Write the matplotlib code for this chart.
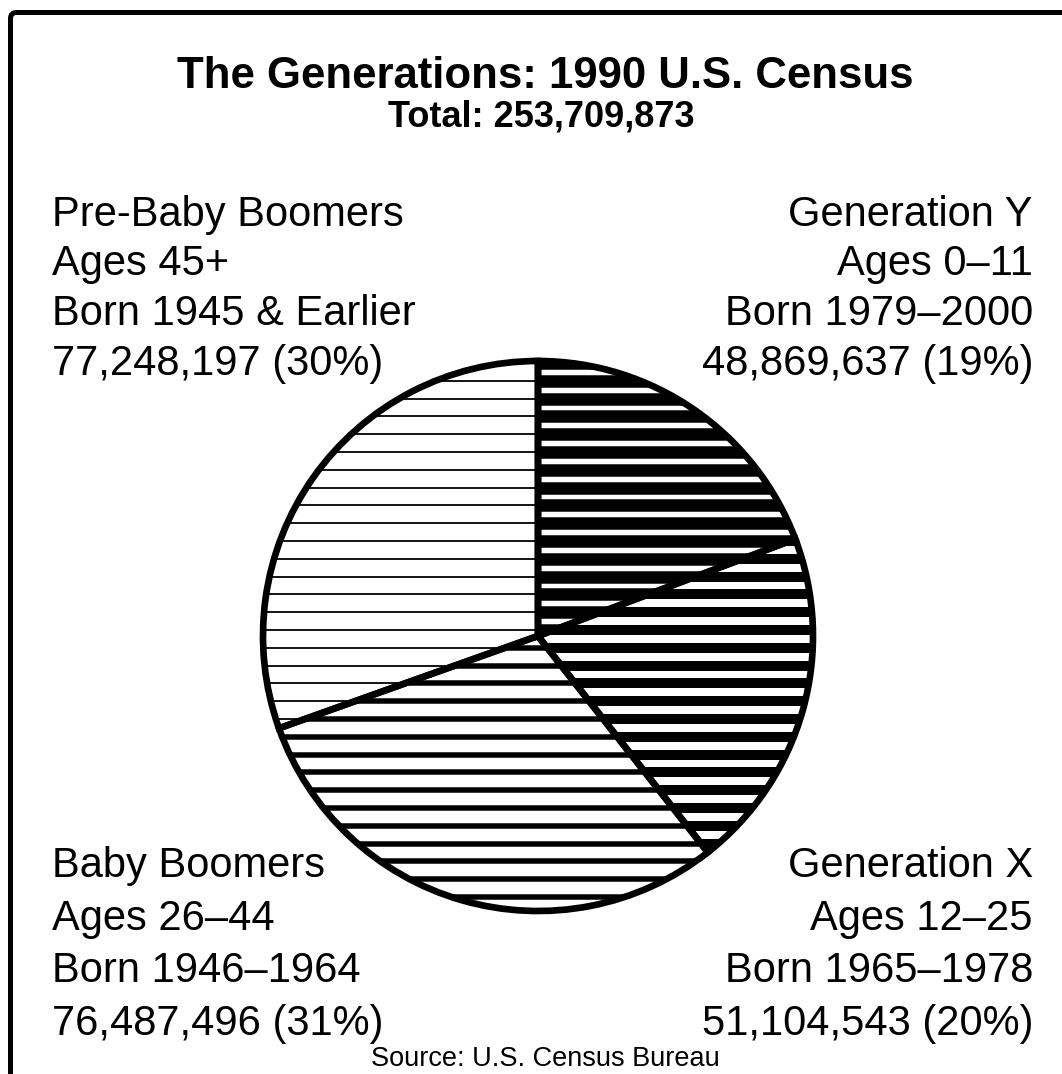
import numpy as np
import matplotlib
matplotlib.use("Agg")
import matplotlib.pyplot as plt
from matplotlib.patches import FancyBboxPatch

plt.rcParams['font.family'] = ['Liberation Sans', 'DejaVu Sans']

# data (clockwise from 12 o'clock)
generations = ['Generation Y', 'Generation X', 'Baby Boomers', 'Pre-Baby Boomers']
population = [48869637, 51104543, 76487496, 77248197]
percent_labels = ['19%', '20%', '31%', '30%']
ages = ['Ages 0\u201311', 'Ages 12\u201325', 'Ages 26\u201344', 'Ages 45+']
born = ['Born 1979\u20132000', 'Born 1965\u20131978', 'Born 1946\u20131964', 'Born 1945 & Earlier']
total = 253709873

# hatch line width (px) for each wedge, dark -> light
hatch_px = [12.5, 10, 5.5, 1.8]

W, H = 1062, 1074
fig = plt.figure(figsize=(W / 100, H / 100), dpi=100)
ax = fig.add_axes([0, 0, 1, 1])


def py(y):
    # pixel row (from top) -> data y
    return H - y


cx, cy, r = 538, 636, 275
wedges, _ = ax.pie(population, startangle=90, counterclock=False,
                   center=(cx, py(cy)), radius=r, frame=True,
                   wedgeprops=dict(facecolor='none', edgecolor='black',
                                   linewidth=4.8, zorder=3))

# horizontal hatching, clipped to each wedge
rows = np.arange(380.7 - 17.8 * 2, 930, 17.8)
for w, lw in zip(wedges, hatch_px):
    lc = ax.hlines(py(rows), cx - r - 10, cx + r + 10, colors='black',
                   linewidth=lw * 0.72, zorder=2)
    lc.set_clip_path(w)

ax.set_xlim(0, W)
ax.set_ylim(0, H)
ax.set_aspect('auto')
ax.axis('off')

# outer frame (runs off the right and bottom edges)
frame = FancyBboxPatch((10.5, -60), 1200, py(12.5) + 60,
                       boxstyle='round,pad=0,rounding_size=6',
                       facecolor='none', edgecolor='black', linewidth=3.6,
                       zorder=5, clip_on=False)
ax.add_patch(frame)

# titles
ax.text(545, py(88), 'The Generations: 1990 U.S. Census', ha='center',
        va='baseline', fontsize=31.5, fontweight='bold')
ax.text(541, py(126), f'Total: {total:,}', ha='center', va='baseline',
        fontsize=26, fontweight='bold')

# category labels
fs = 30
positions = {
    'Generation Y': (1033, 'right', [226, 275.5, 325, 374.5]),
    'Generation X': (1033, 'right', [877, 929.7, 982.4, 1035]),
    'Baby Boomers': (52, 'left', [877, 929.7, 982.4, 1035]),
    'Pre-Baby Boomers': (52, 'left', [226, 275.5, 325, 374.5]),
}
for name, pop, pct, age, b in zip(generations, population, percent_labels, ages, born):
    x, ha, ys = positions[name]
    lines = [name, age, b, f'{pop:,} ({pct})']
    for line, y in zip(lines, ys):
        ax.text(x, py(y), line, ha=ha, va='baseline', fontsize=fs)

ax.text(545, py(1066), 'Source: U.S. Census Bureau', ha='center',
        va='baseline', fontsize=19.5)

fig.savefig('out.png', dpi=100, facecolor='white')
